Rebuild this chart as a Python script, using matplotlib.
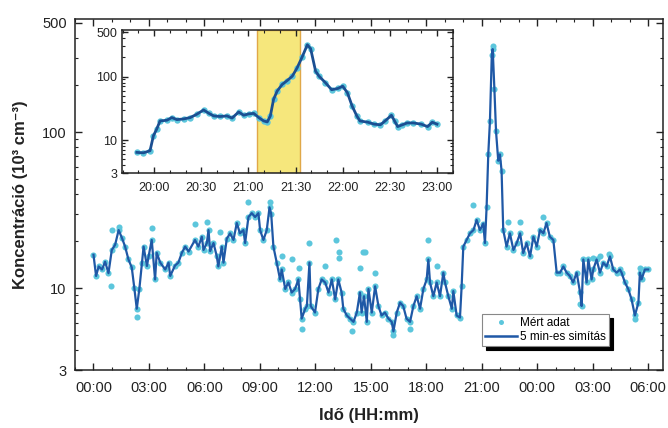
import numpy as np
import matplotlib
matplotlib.use("Agg")
import matplotlib.pyplot as plt
from matplotlib.lines import Line2D
from matplotlib.ticker import LogLocator, NullFormatter, MultipleLocator

plt.rcParams['font.family'] = ['Liberation Sans', 'DejaVu Sans']

# main series: hours since midnight of day 1, concentration (10^3 cm^-3)
main_t = [0.0, 0.14, 0.28, 0.46, 0.63, 0.81, 0.99, 1.17, 1.36, 1.54, 1.71, 1.89,
          2.07, 2.21, 2.34, 2.48, 2.62, 2.71, 2.89, 2.98, 3.15, 3.33, 3.42, 3.61,
          3.88, 4.06, 4.15, 4.41, 4.59, 4.78, 4.96, 5.14, 5.49, 5.67, 5.86, 5.95,
          6.13, 6.22, 6.31, 6.49, 6.67, 6.75, 6.94, 7.03, 7.21, 7.39, 7.57, 7.75,
          7.92, 8.11, 8.20, 8.38, 8.56, 8.74, 8.92, 9.01, 9.19, 9.37, 9.52, 9.61,
          9.73, 9.91, 10.09, 10.18, 10.37, 10.54, 10.72, 10.90, 11.08, 11.17, 11.26,
          11.45, 11.54, 11.68, 11.75, 11.98, 12.16, 12.34, 12.53, 12.71, 12.89,
          13.07, 13.24, 13.42, 13.51, 13.70, 13.88, 14.06, 14.24, 14.41, 14.50,
          14.63, 14.78, 14.87, 15.05, 15.23, 15.41, 15.58, 15.76, 15.95, 16.13,
          16.22, 16.40, 16.58, 16.75, 16.93, 17.12, 17.30, 17.48, 17.66, 17.84,
          18.02, 18.11, 18.20, 18.38, 18.56, 18.74, 18.92, 19.01, 19.19, 19.38,
          19.46, 19.64, 19.82, 19.91, 20.0, 20.18, 20.36, 20.55, 20.72, 20.90,
          21.08, 21.17, 21.26, 21.35, 21.44, 21.54, 21.59, 21.68, 21.77, 21.89,
          21.98, 22.07, 22.16, 22.34, 22.52, 22.71, 22.89, 23.07, 23.24, 23.42,
          23.61, 23.79, 23.97, 24.15, 24.33, 24.50, 24.68, 24.87, 25.05, 25.23,
          25.41, 25.59, 25.76, 25.94, 26.13, 26.31, 26.40, 26.49, 26.67, 26.76,
          26.94, 27.03, 27.21, 27.39, 27.57, 27.75, 27.93, 28.11, 28.29, 28.47,
          28.56, 28.74, 28.92, 29.10, 29.28, 29.47, 29.55, 29.64, 29.82, 30.0]
main_c = [16.4, 12, 13.8, 13.2, 14.8, 12.5, 17.6, 19, 23.6, 21, 18.5, 15.3,
          13.6, 10, 7.4, 9.9, 14.6, 18.5, 13.9, 16, 20.4, 11.4, 16.9, 14.6,
          13.2, 14.6, 12, 14, 14.6, 16.9, 18.5, 17.2, 20.4, 18.5, 21.4, 17.6,
          19.5, 23.6, 17.3, 19.5, 16, 13.8, 18.5, 14.6, 20.8, 22.5, 20.4, 26.2,
          22.5, 23.6, 19.5, 28.6, 30.3, 28.6, 30.3, 23.6, 20.4, 23.6, 33, 30,
          18.5, 14.6, 11.4, 13.2, 9.9, 10.9, 9.4, 9.9, 11.4, 8.5, 6.4,
          7.4, 7.7, 14.6, 7.7, 7.0, 9.9, 11.4, 10.9, 9.4, 11.4,
          8.5, 11.4, 9.4, 7.4, 6.7, 6.4, 6.1, 7.0, 9.4, 7.0,
          8.9, 6.1, 9.9, 7.0, 10.3, 7.7, 6.7, 7.0, 6.4, 6.1,
          5.3, 7.0, 8.1, 7.7, 6.4, 6.1, 7.7, 8.9, 7.4, 9.9,
          11.4, 15.3, 10.9, 8.9, 10.9, 8.9, 12.6, 10.9, 8.9, 7.4,
          9.6, 6.7, 6.5, 10.3, 18.5, 20.4, 22.5, 23.6, 27.4, 23.6,
          26, 19.5, 33, 72, 117, 310, 340, 190, 101, 65.6,
          72, 56.6, 23.6, 18.5, 22.5, 17.6, 19.5, 22.5, 16.8, 19.5,
          16.0, 21.4, 18.5, 23.6, 22.5, 26.2, 21.4, 20.4, 12.6, 12.6,
          13.8, 12.6, 12.0, 10.9, 12.6, 9.5, 7.7, 15.3, 10.9, 15.3,
          11.4, 13.2, 15.3, 12.6, 14.6, 13.8, 16.0, 13.2, 12.6, 13.2,
          12.6, 10.9, 9.9, 8.5, 6.7, 8.1, 12.6, 11.4, 13.2, 13.2]

# measured points that sit off the smoothed curve
extra_t = [1.0, 1.36, 0.93, 3.15, 5.49, 6.13, 6.85, 2.36, 8.38, 9.52, 11.68, 13.1,
           13.3, 13.3, 14.7, 10.72, 10.2, 11.1, 12.5, 14.4, 11.28, 14.0, 14.55,
           15.23, 18.11, 18.56, 16.22, 17.1, 20.5, 21.59, 22.4, 23.07, 24.33,
           27.03, 27.39, 27.9, 26.31, 29.28, 29.55]
extra_c = [23.6, 24.8, 10.3, 24.4, 26, 26.7, 23, 6.6, 35.6, 35.6, 19.5, 20.4,
           17.2, 15.6, 17.2, 15.3, 16, 13.5, 13.8, 13.5, 5.5, 5.3, 17.2,
           12.6, 20.4, 13.8, 5.0, 5.5, 34, 358, 26.7, 26.7, 28.7,
           15.7, 16, 16.5, 7.9, 6.4, 13.5]

# inset: clock time in hours, concentration
ins_t = [19.817, 19.887, 19.957, 19.993, 20.028, 20.063, 20.135, 20.188, 20.242,
         20.312, 20.383, 20.453, 20.525, 20.578, 20.632, 20.70, 20.773, 20.827,
         20.897, 20.95, 21.003, 21.057, 21.11, 21.163, 21.20, 21.233, 21.267,
         21.305, 21.358, 21.412, 21.465, 21.517, 21.572, 21.625, 21.66, 21.713,
         21.75, 21.817, 21.883, 21.95, 22.0, 22.05, 22.10, 22.15, 22.183, 22.267,
         22.333, 22.40, 22.45, 22.517, 22.55, 22.583, 22.633, 22.683, 22.75,
         22.833, 22.90, 22.95, 23.0]
ins_c = [6.4, 6.3, 6.8, 11.7, 14.9, 20, 20.5, 22.6, 21,
         21.5, 22.6, 25.5, 29.8, 26.5, 24, 23.5, 24, 22.2,
         27.7, 24.6, 25.8, 26.3, 22.6, 20, 19.3, 24, 43.7,
         59, 75, 86.6, 101, 137, 206, 316, 275, 121,
         101, 80, 62, 65, 70.6, 55.6, 34.4, 24, 20, 19.1,
         17.8, 17.4, 20, 24.6, 20, 16.3, 17.4, 18.6, 18.6,
         17.8, 16.3, 19.1, 17.8]
band = (21.095, 21.55)

x_ticks = list(range(0, 31, 3))
x_labels = ['00:00', '03:00', '06:00', '09:00', '12:00', '15:00', '18:00',
            '21:00', '00:00', '03:00', '06:00']
ins_ticks = [20, 20.5, 21, 21.5, 22, 22.5, 23]
ins_labels = ['20:00', '20:30', '21:00', '21:30', '22:00', '22:30', '23:00']

dot_col = '#5cc6dc'
line_col = '#1f58a6'
txt = '#222222'

fig = plt.figure(figsize=(6.68, 4.28), dpi=100)
ax = fig.add_axes([75 / 668, 58 / 428, 588 / 668, 351 / 428])

meas_t = main_t + extra_t
meas_c = main_c + extra_c
ax.plot(meas_t, meas_c, 'o', ms=4.4, color=dot_col, mec='none', zorder=2)
ax.plot(main_t, main_c, '-', lw=1.6, color=line_col, zorder=3)

ax.set_yscale('log')
ax.set_xlim(-1.0, 30.8)
ax.set_ylim(3, 530)
ax.set_xticks(x_ticks, labels=x_labels)
ax.xaxis.set_minor_locator(MultipleLocator(1))
ax.set_yticks([3, 10, 100, 500], labels=['3', '10', '100', '500'])
ax.yaxis.set_minor_locator(LogLocator(base=10, subs=np.arange(2, 10)))
ax.yaxis.set_minor_formatter(NullFormatter())
ax.tick_params(which='both', direction='in', top=True, right=True, colors=txt)
ax.tick_params(which='major', length=5, width=1)
ax.tick_params(which='minor', length=2.5, width=0.8)
ax.tick_params(axis='x', labelsize=10.5, pad=8)
ax.tick_params(axis='y', labelsize=10.5, pad=6)
for s in ax.spines.values():
    s.set_color(txt)
    s.set_linewidth(1.1)

ax.set_xlabel('Idő (HH:mm)', fontsize=12, fontweight='bold', color=txt, labelpad=9)
ax.set_ylabel('Koncentráció (10³ cm⁻³)', fontsize=12, fontweight='bold', color=txt, labelpad=10)

handles = [Line2D([], [], marker='o', ls='none', ms=3.6, color=dot_col, mec='none'),
           Line2D([], [], lw=1.8, color=line_col)]
leg = ax.legend(handles, ['Mért adat', '5 min-es simítás'], loc='upper left',
                bbox_to_anchor=(482 / 668, 1 - 314 / 428), bbox_transform=fig.transFigure,
                fontsize=8.5, fancybox=False, framealpha=1, edgecolor='#888888',
                handlelength=2.7, handletextpad=0.3, borderpad=0.25, labelspacing=0.15,
                borderaxespad=0,
                shadow={'ox': 3, 'oy': -3, 'color': 'black', 'alpha': 1})
leg.get_frame().set_linewidth(0.8)

# inset
ai = fig.add_axes([122.3 / 668, (428 - 173.3) / 428, 331 / 668, 143.3 / 428])
ai.axvspan(band[0], band[1], facecolor='#f6e77c', edgecolor='#e0a848', lw=1, zorder=0)
ai.plot(ins_t, ins_c, 'o', ms=4.6, color=dot_col, mec='none', zorder=2)
ai.plot(ins_t, ins_c, '-', lw=2.0, color='#1b4f92', zorder=3)
ai.set_yscale('log')
ai.set_xlim(19.663, 23.173)
ai.set_ylim(3, 540)
ai.set_xticks(ins_ticks, labels=ins_labels)
ai.xaxis.set_minor_locator(MultipleLocator(1 / 6))
ai.set_yticks([3, 10, 100, 500], labels=['3', '10', '100', '500'])
ai.yaxis.set_minor_locator(LogLocator(base=10, subs=np.arange(2, 10)))
ai.yaxis.set_minor_formatter(NullFormatter())
ai.tick_params(which='both', direction='in', top=True, right=True, colors=txt, labelsize=9)
ai.tick_params(which='major', length=4, width=1)
ai.tick_params(which='minor', length=2, width=0.8)
ai.tick_params(axis='x', pad=6)
for s in ai.spines.values():
    s.set_color(txt)
    s.set_linewidth(1.1)

fig.savefig('out.png', dpi=100)
